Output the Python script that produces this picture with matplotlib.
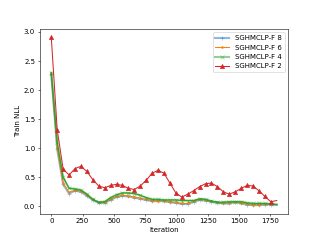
import matplotlib
matplotlib.use('Agg')
import matplotlib.pyplot as plt
import numpy as np

iters = np.linspace(0, 1800, 39)

f8 = [2.28, 0.98, 0.38, 0.22, 0.27, 0.25, 0.18, 0.11, 0.06, 0.06, 0.11, 0.16, 0.18,
      0.17, 0.15, 0.13, 0.11, 0.09, 0.09, 0.09, 0.07, 0.06, 0.04, 0.04, 0.08, 0.11,
      0.10, 0.08, 0.06, 0.05, 0.05, 0.07, 0.05, 0.03, 0.02, 0.02, 0.03, 0.03, 0.03]
f6 = [2.28, 1.00, 0.40, 0.24, 0.28, 0.26, 0.19, 0.12, 0.07, 0.07, 0.12, 0.17, 0.19,
      0.18, 0.16, 0.14, 0.12, 0.10, 0.10, 0.10, 0.08, 0.07, 0.05, 0.05, 0.09, 0.12,
      0.11, 0.09, 0.07, 0.06, 0.06, 0.08, 0.06, 0.04, 0.03, 0.03, 0.04, 0.04, 0.03]
f4 = [2.30, 1.10, 0.50, 0.31, 0.30, 0.28, 0.21, 0.12, 0.07, 0.08, 0.15, 0.20, 0.23,
      0.23, 0.22, 0.19, 0.15, 0.12, 0.12, 0.11, 0.11, 0.11, 0.10, 0.10, 0.10, 0.13,
      0.12, 0.09, 0.07, 0.07, 0.08, 0.08, 0.08, 0.06, 0.05, 0.05, 0.05, 0.04, 0.03]
f2 = [2.91, 1.32, 0.64, 0.54, 0.65, 0.69, 0.60, 0.46, 0.35, 0.32, 0.36, 0.38, 0.36,
      0.31, 0.29, 0.35, 0.45, 0.57, 0.62, 0.57, 0.40, 0.23, 0.16, 0.21, 0.27, 0.34,
      0.39, 0.40, 0.34, 0.25, 0.21, 0.25, 0.31, 0.36, 0.35, 0.27, 0.17, 0.08, 0.10]

marks = slice(0, 38)

fig, ax = plt.subplots(figsize=(6.4, 4.8), dpi=50)
ax.plot(iters, f8, color='tab:blue', alpha=0.5, linewidth=3, marker='+', markevery=marks, label='SGHMCLP-F 8')
ax.plot(iters, f6, color='tab:orange', marker='.', markersize=5, markevery=marks, label='SGHMCLP-F 6')
ax.plot(iters, f4, color='tab:green', alpha=0.5, linewidth=3, marker='x', markevery=marks, label='SGHMCLP-F 4')
ax.plot(iters, f4, color='tab:green', linewidth=1.5)
ax.plot(iters, f2, color='tab:red', marker='^', markevery=marks, label='SGHMCLP-F 2')
ax.set_xlabel('Iteration')
ax.set_ylabel('Train NLL')
ax.legend()
plt.savefig('out.png', dpi=50)
